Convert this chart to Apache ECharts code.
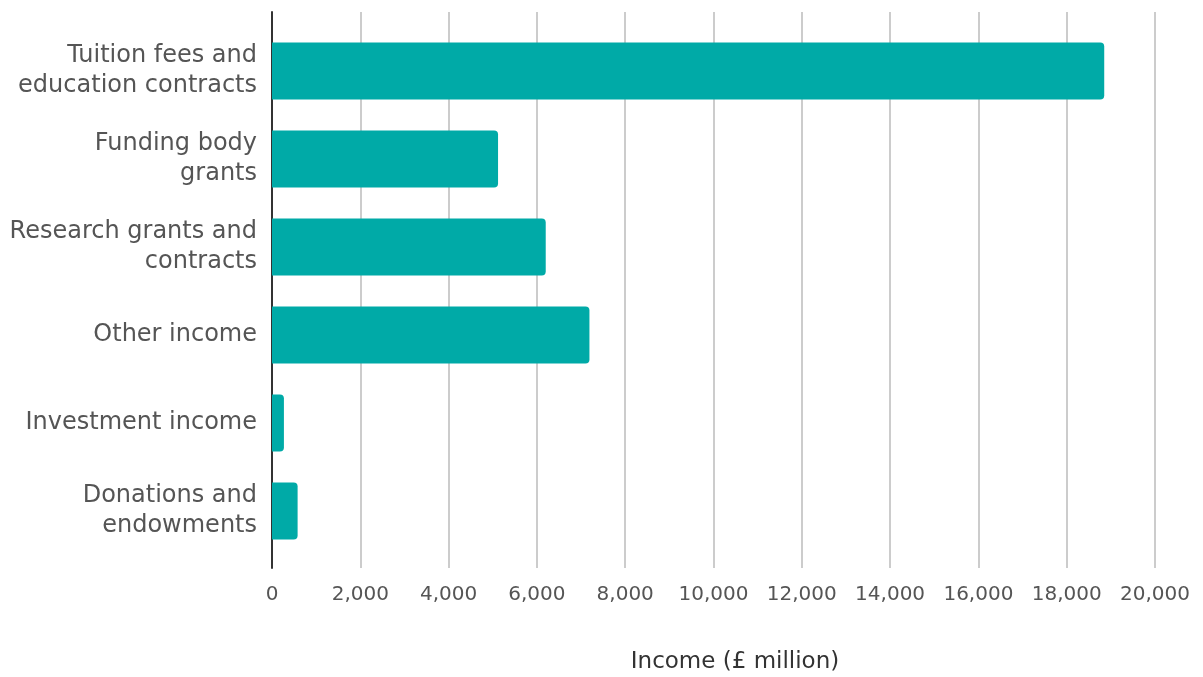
<!DOCTYPE html>
<html>
<head>
<meta charset="utf-8">
<script src="https://cdn.jsdelivr.net/npm/echarts@6/dist/echarts.min.js"></script>
<style>
html,body{margin:0;padding:0;background:#fff;}
#chart{width:1203px;height:677px;}
</style>
</head>
<body>
<div id="chart"></div>
<script>
var categories = [
  "Tuition fees and\neducation contracts",
  "Funding body\ngrants",
  "Research grants and\ncontracts",
  "Other income",
  "Investment income",
  "Donations and\nendowments"
];
var incomeValues = [18850, 5120, 6200, 7190, 270, 580];
var axisMin = 0, axisMax = 20000, axisInterval = 2000;
var axisTitle = "Income (£ million)";

var FONT = "DejaVu Sans";
var chart = echarts.init(document.getElementById('chart'));
chart.setOption({
  animation: false,
  backgroundColor: '#ffffff',
  textStyle: { fontFamily: FONT },
  title: {
    text: axisTitle,
    left: 730, top: 646,
    textAlign: 'center',
    textStyle: { fontFamily: FONT, fontSize: 23, fontWeight: 'normal', color: '#333333' }
  },
  grid: [
    { left: 272, right: 48, top: 27, height: 528 },
    { left: 272, right: 48, top: 12, bottom: 109 }
  ],
  xAxis: [
    { type: 'value', gridIndex: 0, min: axisMin, max: axisMax, interval: axisInterval, show: false },
    { type: 'value', gridIndex: 1, min: axisMin, max: axisMax, interval: axisInterval,
      axisLine: { show: false }, axisTick: { show: false },
      splitLine: { show: true, lineStyle: { color: '#cccccc', width: 2 } },
      axisLabel: { margin: 17, fontFamily: FONT, fontSize: 20, color: '#555555',
        formatter: function (v) { return v.toLocaleString('en-US'); } }
    }
  ],
  yAxis: [
    { type: 'category', gridIndex: 0, data: categories, inverse: true,
      axisLine: { show: false }, axisTick: { show: false }, splitLine: { show: false },
      axisLabel: { margin: 15, fontFamily: FONT, fontSize: 24, lineHeight: 30, color: '#555555', align: 'right' }
    },
    { type: 'value', gridIndex: 1, min: 0, max: 1,
      axisLine: { show: true, lineStyle: { color: '#333333', width: 2 } },
      axisTick: { show: false }, axisLabel: { show: false }, splitLine: { show: false }
    }
  ],
  series: [{
    type: 'bar',
    xAxisIndex: 0, yAxisIndex: 0,
    data: incomeValues,
    barWidth: 57,
    itemStyle: { color: '#00aaa7', borderRadius: [0, 4, 4, 0] }
  }]
});
</script>
</body>
</html>
